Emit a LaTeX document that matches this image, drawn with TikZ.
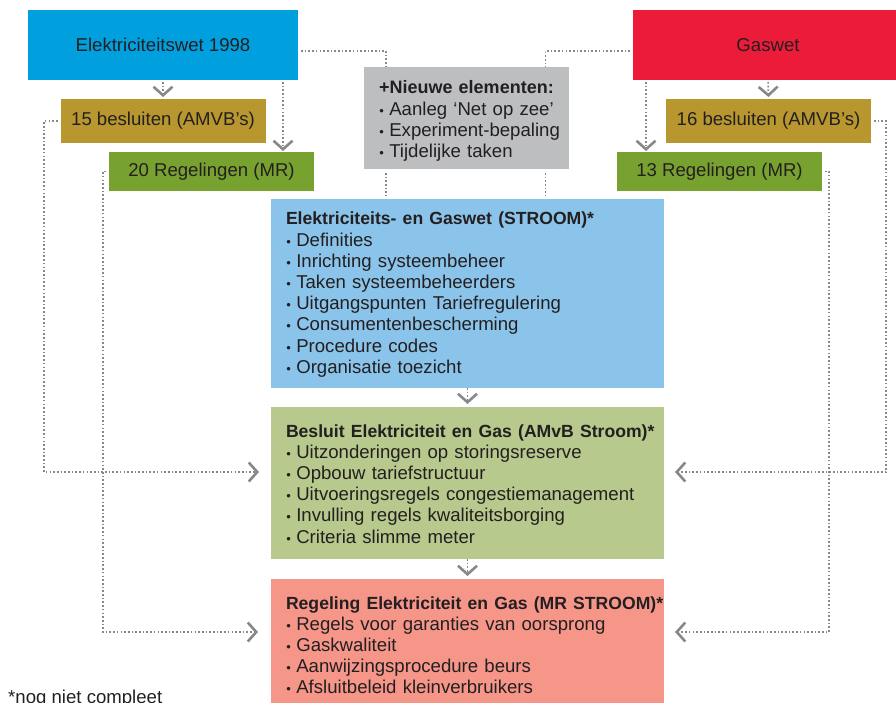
\documentclass[tikz,border=0pt]{standalone}
\usepackage{fontspec}
\setmainfont{Liberation Sans}
\usetikzlibrary{arrows.meta}
\definecolor{cElek}{RGB}{0,160,223}
\definecolor{cGas}{RGB}{237,27,58}
\definecolor{cBes}{RGB}{185,151,47}
\definecolor{cReg}{RGB}{120,162,47}
\definecolor{cGrey}{RGB}{188,190,192}
\definecolor{cBlue}{RGB}{139,196,234}
\definecolor{cGreen}{RGB}{183,201,140}
\definecolor{cRed}{RGB}{246,150,137}
\definecolor{cLine}{RGB}{134,136,139}
\definecolor{cTxt}{RGB}{35,31,32}
\newcommand{\bitem}{\makebox[10.3pt][l]{\hspace{0.3pt}\fontsize{13}{13}\selectfont •}}
\newcommand{\hd}[1]{{\fontsize{17.6}{21.2}\selectfont\bfseries #1}}
\begin{document}
\begin{tikzpicture}[x=1pt,y=-1pt,
  font=\fontsize{18.6}{21.2}\selectfont, text=cTxt,
  boxn/.style={anchor=north west, inner sep=0pt, outer sep=0pt, draw=none},
  txtn/.style={anchor=base west, inner sep=0pt, outer sep=0pt, text width=460pt, align=left},
  conn/.style={draw=cLine, line width=1.6pt, dash pattern=on 1.6pt off 2.1pt},
  chev/.style={-{Straight Barb[length=8.5pt,width=19pt,line width=2.6pt]}}
]
\useasboundingbox (0,0) rectangle (896,703);
\clip (0,0) rectangle (896,703);

% top boxes
\node[boxn, fill=cElek, minimum width=270pt, minimum height=70pt] (elek) at (28,10) {Elektriciteitswet 1998};
\node[boxn, fill=cGas, minimum width=270pt, minimum height=70pt] (gas) at (633,10) {Gaswet};
\node[boxn, fill=cBes, minimum width=205pt, minimum height=44pt] (b15) at (60.5,99) {15 besluiten (AMVB’s)};
\node[boxn, fill=cReg, minimum width=205pt, minimum height=39pt] (r20) at (109,152) {20 Regelingen (MR)};
\node[boxn, fill=cBes, minimum width=205pt, minimum height=44pt] (b16) at (666,99) {16 besluiten (AMVB’s)};
\node[boxn, fill=cReg, minimum width=205pt, minimum height=39pt] (r13) at (617,152) {13 Regelingen (MR)};

% grey box
\node[boxn, fill=cGrey, minimum width=205pt, minimum height=102pt] (grey) at (364,67) {};
\node[txtn] (tgrey) at (379,94) {{\fontsize{18}{21.2}\selectfont\bfseries +Nieuwe elementen:}\\
\bitem Aanleg ‘Net op zee’\\
\bitem Experiment-bepaling\\
\bitem Tijdelijke taken};

% main boxes
\node[boxn, fill=cBlue, minimum width=393pt, minimum height=189pt] (blue) at (271,199) {};
\node[txtn] (tblue) at (286,225) {\hd{Elektriciteits- en Gaswet (STROOM)*}\\
\bitem Definities\\
\bitem Inrichting systeembeheer\\
\bitem Taken systeembeheerders\\
\bitem Uitgangspunten Tariefregulering\\
\bitem Consumentenbescherming\\
\bitem Procedure codes\\
\bitem Organisatie toezicht};

\node[boxn, fill=cGreen, minimum width=393pt, minimum height=152pt] (green) at (271,407) {};
\node[txtn] (tgreen) at (286,437) {\hd{Besluit Elektriciteit en Gas (AMvB Stroom)*}\\
\bitem Uitzonderingen op storingsreserve\\
\bitem Opbouw tariefstructuur\\
\bitem Uitvoeringsregels congestiemanagement\\
\bitem Invulling regels kwaliteitsborging\\
\bitem Criteria slimme meter};

\node[boxn, fill=cRed, minimum width=393pt, minimum height=140pt] (red) at (271,579) {};
\node[txtn] (tred) at (286,609) {\hd{Regeling Elektriciteit en Gas (MR STROOM)*}\\
\bitem Regels voor garanties van oorsprong\\
\bitem Gaskwaliteit\\
\bitem Aanwijzingsprocedure beurs\\
\bitem Afsluitbeleid kleinverbruikers};

\node[anchor=base west, inner sep=0pt] (note) at (8,703.5) {*nog niet compleet};

% helper coordinates
\coordinate (xl1) at (44,0);
\coordinate (xl2) at (103,0);
\coordinate (xr1) at (886,0);
\coordinate (xr2) at (829,0);
\coordinate (xe2) at (283,0);
\coordinate (xg2) at (646,0);
\coordinate (xm1) at (386,0);
\coordinate (xm2) at (545.5,0);
\coordinate (y1) at (0,472);
\coordinate (y2) at (0,632);
\coordinate (y0) at (0,51);

% connectors
\draw[conn, chev, shorten <=2pt, shorten >=2pt] (elek.south) -- (b15.north);
\draw[conn, chev, shorten <=2pt, shorten >=1pt] (elek.south -| xe2) -- (r20.north -| xe2);
\draw[conn, chev, shorten <=2pt, shorten >=2pt] (gas.south) -- (b16.north);
\draw[conn, chev, shorten <=2pt, shorten >=1pt] (gas.south -| xg2) -- (r13.north -| xg2);

\draw[conn, shorten <=3pt] (elek.east |- y0) -| (grey.north -| xm1);
\draw[conn, shorten <=3pt] (gas.west |- y0) -| (grey.north -| xm2);
\draw[conn, shorten <=4pt, shorten >=3pt] (grey.south -| xm1) -- (blue.north -| xm1);
\draw[conn, shorten <=4pt, shorten >=3pt] (grey.south -| xm2) -- (blue.north -| xm2);

\draw[conn, chev, shorten >=3pt] (blue.south) -- (green.north);
\draw[conn, chev, shorten >=3pt] (green.south) -- (red.north);

\draw[conn, chev, shorten <=3pt, shorten >=12pt] (b15.west) -| (xl1 |- y1) -- (green.west |- y1);
\draw[conn, chev, shorten <=3pt, shorten >=13pt] (r20.west) -| (xl2 |- y2) -- (red.west |- y2);
\draw[conn, chev, shorten <=3pt, shorten >=11pt] (b16.east) -| (xr1 |- y1) -- (green.east |- y1);
\draw[conn, chev, shorten <=3pt, shorten >=11pt] (r13.east) -| (xr2 |- y2) -- (red.east |- y2);
\end{tikzpicture}
\end{document}
